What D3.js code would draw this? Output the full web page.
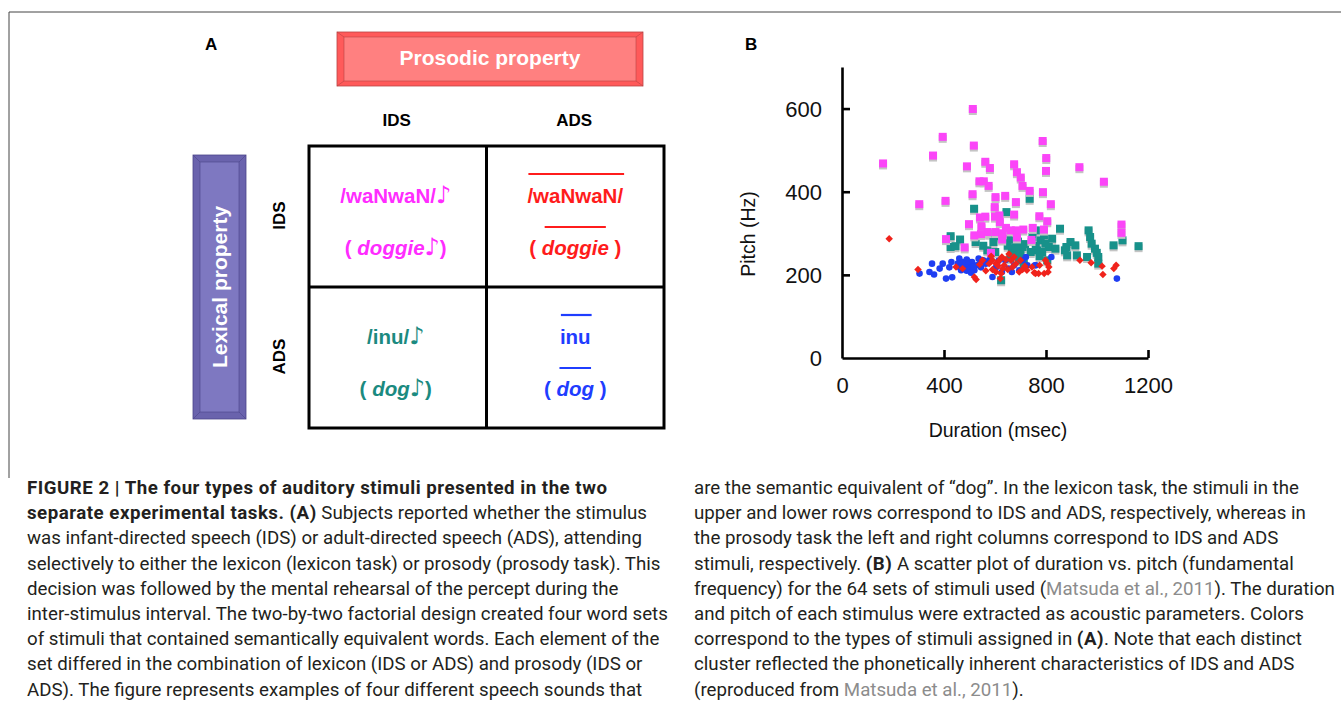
<!DOCTYPE html>
<html>
<head>
<meta charset="utf-8">
<script src="https://cdn.jsdelivr.net/npm/d3@7"></script>
<style>
	body { margin: 0; background: #fff; }
	svg { display: block; }
</style>
</head>
<body>
<div id="chart"></div>
<script>
// ---- data (duration msec, pitch Hz) ----
var magentaPts = [[161,468],[513,599],[395,532],[357,487],[517,511],[490,461],[562,472],[580,457],[675,466],[686,447],
	[701,434],[708,414],[736,402],[787,522],[801,481],[800,450],[788,399],[819,370],[931,459],[1027,424],
	[303,370],[406,378],[539,425],[556,425],[575,414],[512,394],[602,387],[640,390],[682,375],[599,363],
	[617,343],[675,345],[541,338],[498,322],[547,317],[619,327],[643,313],[571,303],[602,303],[519,295],
	[545,298],[682,307],[711,309],[748,313],[774,341],[805,329],[792,309],[743,284],[628,285],[408,286],
	[481,266],[584,253],[1096,321],[1096,301],[662,307],[686,290],[630,300],[562,340],[600,340]];
var tealPts = [[518,359],[645,351],[426,293],[426,267],[463,285],[445,269],[524,279],[554,270],[570,259],[601,255],
	[604,293],[656,285],[666,263],[684,275],[695,259],[708,267],[718,274],[675,251],[695,243],[736,383],
	[747,291],[766,259],[779,283],[792,295],[811,267],[824,287],[837,263],[855,311],[874,259],[883,247],
	[896,279],[915,271],[921,247],[967,307],[973,291],[979,275],[992,263],[999,253],[1005,243],[1005,227],
	[961,243],[1065,271],[1100,283],[1163,269],[760,307],[624,187],[785,255],[798,275],[805,235],[880,267],
	[577,299],[594,279],[695,235],[713,227],[680,265],[690,280],[660,240],[700,250],[740,255],[760,270],
	[775,245],[650,270]];
var redPts = [[185,287],[298,213],[526,189],[621,191],[933,235],[977,229],[1020,221],[1023,201],[1066,215],[1075,223],
	[754,205],[771,203],[793,203],[775,223],[805,227],[811,219],[798,235],[447,219],[473,215],[519,195],
	[551,235],[577,227],[590,213],[604,227],[617,235],[627,243],[636,223],[650,213],[663,235],[669,219],
	[682,227],[695,207],[708,213],[717,221],[725,211],[604,207],[624,203],[564,210],[643,237],[675,243],
	[630,215],[590,235],[745,219],[759,203],[808,207],[540,225],[655,250],[700,235],[612,222],[585,245]];
var bluePts = [[304,203],[343,207],[353,227],[361,201],[383,215],[395,227],[408,191],[432,194],[421,218],[429,231],
	[460,239],[473,231],[480,219],[489,237],[497,223],[502,215],[510,231],[519,211],[528,223],[536,239],
	[545,218],[554,235],[564,227],[577,235],[590,195],[604,218],[614,234],[627,207],[640,235],[653,215],
	[666,207],[675,223],[695,211],[708,235],[721,243],[757,223],[821,243],[1078,191],[460,219],[467,211],
	[489,210],[506,205],[454,227],[541,227],[727,223],[760,223],[470,225],[485,228],[495,232],[515,220]];

var xTicks = [0, 400, 800, 1200];
var yTicks = [0, 200, 400, 600];

// ---- panel A words ----
var colLabels = ["IDS", "ADS"];
var rowLabels = ["IDS", "ADS"];
var NOTE = "\u266a";
var cellWords = [
	{ row: 0, col: 0, color: "#ff2cff", top: "/waNwaN/", topNote: true, pre: "( ", word: "doggie", postNote: true, post: ")", bar: false },
	{ row: 0, col: 1, color: "#ff1c1c", top: "/waNwaN/", topNote: false, pre: "( ", word: "doggie", postNote: false, post: " )", bar: true },
	{ row: 1, col: 0, color: "#1b8a80", top: "/inu/", topNote: true, pre: "( ", word: "dog", postNote: true, post: ")", bar: false },
	{ row: 1, col: 1, color: "#1f3dff", top: "inu", topNote: false, pre: "( ", word: "dog", postNote: false, post: " )", bar: true }
];

// ---- caption ----
var captionLeft = [
	[{ t: "FIGURE 2 | The four types of auditory stimuli presented in the two", b: 1 }],
	[{ t: "separate experimental tasks. (A)", b: 1 }, { t: " Subjects reported whether the stimulus" }],
	[{ t: "was infant-directed speech (IDS) or adult-directed speech (ADS), attending" }],
	[{ t: "selectively to either the lexicon (lexicon task) or prosody (prosody task). This" }],
	[{ t: "decision was followed by the mental rehearsal of the percept during the" }],
	[{ t: "inter-stimulus interval. The two-by-two factorial design created four word sets" }],
	[{ t: "of stimuli that contained semantically equivalent words. Each element of the" }],
	[{ t: "set differed in the combination of lexicon (IDS or ADS) and prosody (IDS or" }],
	[{ t: "ADS). The figure represents examples of four different speech sounds that" }]
];
var captionRight = [
	[{ t: "are the semantic equivalent of \u201cdog\u201d. In the lexicon task, the stimuli in the" }],
	[{ t: "upper and lower rows correspond to IDS and ADS, respectively, whereas in" }],
	[{ t: "the prosody task the left and right columns correspond to IDS and ADS" }],
	[{ t: "stimuli, respectively. " }, { t: "(B)", b: 1 }, { t: " A scatter plot of duration vs. pitch (fundamental" }],
	[{ t: "frequency) for the 64 sets of stimuli used (" }, { t: "Matsuda et al., 2011", g: 1 }, { t: "). The duration" }],
	[{ t: "and pitch of each stimulus were extracted as acoustic parameters. Colors" }],
	[{ t: "correspond to the types of stimuli assigned in " }, { t: "(A)", b: 1 }, { t: ". Note that each distinct" }],
	[{ t: "cluster reflected the phonetically inherent characteristics of IDS and ADS" }],
	[{ t: "(reproduced from " }, { t: "Matsuda et al., 2011", g: 1 }, { t: ")." }]
];

var width = 1341, height = 706;
var ARIAL = "'Liberation Sans', Arial, Helvetica, sans-serif";
var svg = d3.select("#chart")
	.append("svg")
	.attr("width", width)
	.attr("height", height);

// page frame
svg.append("path")
	.attr("d", "M9,478V12H" + width)
	.attr("fill", "none")
	.attr("stroke", "#444")
	.attr("stroke-width", 1);

// beveled label box
var bevelBox = function (x, y, w, h, b, outer, inner, edge) {
	var g = svg.append("g");
	g.append("rect")
		.attr("x", x).attr("y", y).attr("width", w).attr("height", h)
		.attr("fill", outer).attr("stroke", edge).attr("stroke-width", 0.8);
	g.append("rect")
		.attr("x", x + b[0]).attr("y", y + b[1]).attr("width", w - 2 * b[0]).attr("height", h - 2 * b[1])
		.attr("fill", inner).attr("stroke", edge).attr("stroke-width", 0.6);
	var corners = [[x, y, x + b[0], y + b[1]], [x + w, y, x + w - b[0], y + b[1]],
		[x, y + h, x + b[0], y + h - b[1]], [x + w, y + h, x + w - b[0], y + h - b[1]]];
	corners.forEach(function (c) {
		g.append("line")
			.attr("x1", c[0]).attr("y1", c[1]).attr("x2", c[2]).attr("y2", c[3])
			.attr("stroke", edge).attr("stroke-width", 0.6);
	});
	return g;
};

// ---------------- panel A ----------------
svg.append("text")
	.attr("x", 205).attr("y", 50)
	.attr("font-family", ARIAL).attr("font-weight", "bold").attr("font-size", 17)
	.text("A");

bevelBox(337, 32, 306, 54, [7, 5], "#ff5a5a", "#ff8080", "#b84444");
svg.append("text")
	.attr("x", 490).attr("y", 65)
	.attr("text-anchor", "middle")
	.attr("font-family", ARIAL).attr("font-weight", "bold").attr("font-size", 21)
	.attr("fill", "#fff")
	.text("Prosodic property");

bevelBox(193, 155, 53, 264, [7, 7], "#6a63ad", "#7e78c1", "#4b4589");
svg.append("text")
	.attr("transform", "translate(227,287) rotate(-90)")
	.attr("text-anchor", "middle")
	.attr("font-family", ARIAL).attr("font-weight", "bold").attr("font-size", 21)
	.attr("fill", "#fff")
	.text("Lexical property");

var gridX = d3.scaleBand().domain([0, 1]).range([309, 664]);
var gridY = d3.scaleBand().domain([0, 1]).range([146, 428]);

svg.selectAll(".colLabel")
	.data(colLabels)
	.enter().append("text")
	.attr("x", function (d, i) { return gridX(i) + gridX.bandwidth() / 2 - 1; })
	.attr("y", 126)
	.attr("text-anchor", "middle")
	.attr("font-family", ARIAL).attr("font-weight", "bold").attr("font-size", 17)
	.text(function (d) { return d; });

svg.selectAll(".rowLabel")
	.data(rowLabels)
	.enter().append("text")
	.attr("transform", function (d, i) {
		return "translate(285," + (gridY(i) + gridY.bandwidth() / 2 - 1) + ") rotate(-90)";
	})
	.attr("text-anchor", "middle")
	.attr("font-family", ARIAL).attr("font-weight", "bold").attr("font-size", 17)
	.text(function (d) { return d; });

var grid = svg.append("g")
	.attr("fill", "none")
	.attr("stroke", "#000")
	.attr("stroke-width", 3);
grid.append("rect")
	.attr("x", 309).attr("y", 146).attr("width", 355).attr("height", 282);
grid.append("line")
	.attr("x1", gridX(1)).attr("x2", gridX(1)).attr("y1", 146).attr("y2", 428);
grid.append("line")
	.attr("x1", 309).attr("x2", 664).attr("y1", gridY(1)).attr("y2", gridY(1));

var addNote = function (t) {
	t.append("tspan")
		.attr("font-family", "'DejaVu Sans', sans-serif")
		.attr("font-weight", "normal")
		.attr("font-size", 24)
		.text(NOTE);
};

cellWords.forEach(function (c) {
	var cx = gridX(c.col) + gridX.bandwidth() / 2 + (c.col ? 0 : -2);
	var y0 = gridY(c.row) + 57, y1 = gridY(c.row) + 109;
	var t1 = svg.append("text")
		.attr("x", cx).attr("y", y0)
		.attr("text-anchor", "middle")
		.attr("font-family", ARIAL).attr("font-weight", "bold").attr("font-size", 20.5)
		.attr("fill", c.color);
	t1.append("tspan").text(c.top);
	if (c.topNote) addNote(t1);
	var t2 = svg.append("text")
		.attr("x", cx).attr("y", y1)
		.attr("text-anchor", "middle")
		.attr("font-family", ARIAL).attr("font-weight", "bold").attr("font-size", 20.5)
		.attr("fill", c.color);
	t2.append("tspan").text(c.pre);
	t2.append("tspan").attr("font-style", "italic").text(c.word);
	if (c.postNote) addNote(t2);
	t2.append("tspan").text(c.post);
	if (c.bar) {
		var n1 = t1.node(), n2 = t2.node();
		var a = n1.getStartPositionOfChar(0).x, b = n1.getEndPositionOfChar(c.top.length - 1).x;
		svg.append("line")
			.attr("x1", a + 1).attr("x2", b + 1).attr("y1", y0 - 29).attr("y2", y0 - 29)
			.attr("stroke", c.color).attr("stroke-width", 2.2);
		var s = c.pre.length, e = s + c.word.length - 1;
		var a2 = n2.getStartPositionOfChar(s).x, b2 = n2.getEndPositionOfChar(e).x;
		svg.append("line")
			.attr("x1", a2 + 3).attr("x2", b2 - 3).attr("y1", y1 - 28).attr("y2", y1 - 28)
			.attr("stroke", c.color).attr("stroke-width", 2.2);
	}
});

// ---------------- panel B ----------------
svg.append("text")
	.attr("x", 745).attr("y", 50)
	.attr("font-family", ARIAL).attr("font-weight", "bold").attr("font-size", 17)
	.text("B");

var x = d3.scaleLinear().domain([0, 1200]).range([842, 1148]);
var y = d3.scaleLinear().domain([0, 700]).range([358, 67]);

var xAxis = svg.append("g")
	.attr("transform", "translate(0,358)")
	.call(d3.axisBottom(x).tickValues(xTicks).tickFormat(d3.format("d"))
		.tickSize(-8).tickSizeOuter(0).tickPadding(19));
var yAxis = svg.append("g")
	.attr("transform", "translate(842,0)")
	.call(d3.axisLeft(y).tickValues(yTicks).tickFormat(d3.format("d"))
		.tickSize(-8).tickSizeOuter(0).tickPadding(20));

[xAxis, yAxis].forEach(function (ax) {
	ax.select(".domain").attr("stroke", "#000").attr("stroke-width", 2.6);
	ax.selectAll(".tick line").attr("stroke", "#000").attr("stroke-width", 2.6);
	ax.selectAll(".tick text")
		.attr("font-family", ARIAL).attr("font-size", 22).attr("fill", "#111");
});
xAxis.selectAll(".tick").filter(function (d) { return d === 0; }).select("line").remove();
yAxis.selectAll(".tick").filter(function (d) { return d === 0; }).select("line").remove();
yAxis.selectAll(".tick text").attr("dy", "0.36em");

svg.append("text")
	.attr("x", 998).attr("y", 437)
	.attr("text-anchor", "middle")
	.attr("font-family", ARIAL).attr("font-size", 19.5).attr("fill", "#111")
	.text("Duration (msec)");
svg.append("text")
	.attr("transform", "translate(755,234) rotate(-90)")
	.attr("text-anchor", "middle")
	.attr("font-family", ARIAL).attr("font-size", 19.5).attr("fill", "#111")
	.text("Pitch (Hz)");

var plot = svg.append("g");

var drawSquares = function (pts, color) {
	var g = plot.append("g");
	g.selectAll(".shadow")
		.data(pts)
		.enter().append("rect")
		.attr("x", function (d) { return x(d[0]) - 4; })
		.attr("y", function (d) { return y(d[1]) - 2; })
		.attr("width", 8).attr("height", 8)
		.attr("fill", "#c4c4c4");
	g.selectAll(".sq")
		.data(pts)
		.enter().append("rect")
		.attr("x", function (d) { return x(d[0]) - 4; })
		.attr("y", function (d) { return y(d[1]) - 4; })
		.attr("width", 8).attr("height", 8)
		.attr("fill", color);
};

drawSquares(tealPts, "#17918a");
drawSquares(magentaPts, "#fb45f8");

plot.append("g").selectAll("circle")
	.data(bluePts)
	.enter().append("circle")
	.attr("cx", function (d) { return x(d[0]); })
	.attr("cy", function (d) { return y(d[1]); })
	.attr("r", 3.3)
	.attr("fill", "#1f3ef2");

plot.append("g").selectAll("path")
	.data(redPts)
	.enter().append("path")
	.attr("d", d3.symbol().type(d3.symbolSquare).size(28))
	.attr("transform", function (d) { return "translate(" + x(d[0]) + "," + y(d[1]) + ") rotate(45)"; })
	.attr("fill", "#f0231c");

// ---------------- caption ----------------
var CAP = "Roboto, 'Liberation Sans', sans-serif";
var captionBlock = function (lines, x0, y0, lead) {
	lines.forEach(function (segs, i) {
		var t = svg.append("text")
			.attr("x", x0).attr("y", y0 + i * lead)
			.attr("font-family", CAP).attr("font-size", 18.7)
			.attr("fill", "#231f20");
		segs.forEach(function (s) {
			var sp = t.append("tspan").text(s.t);
			if (s.b) sp.attr("font-weight", "bold").attr("letter-spacing", 0.5);
			if (s.g) sp.attr("fill", "#8c8c8c");
		});
	});
};
captionBlock(captionLeft, 27, 494, 25.2);
captionBlock(captionRight, 694, 494, 25.2);
</script>
</body>
</html>
